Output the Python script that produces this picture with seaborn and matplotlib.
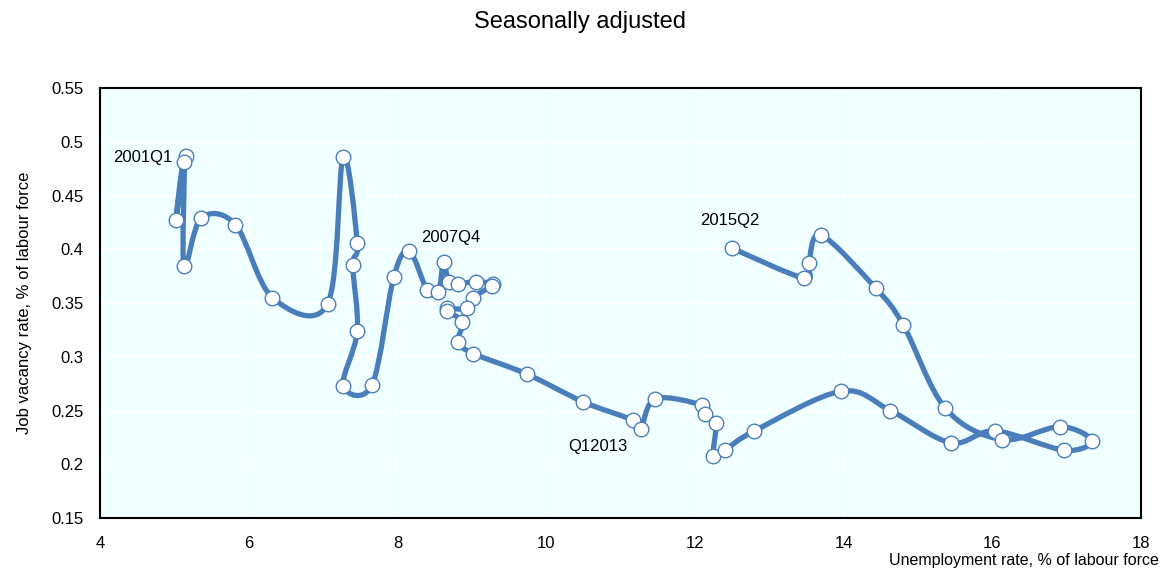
import seaborn as sns
import numpy as np
import matplotlib.pyplot as plt
from matplotlib.path import Path
from matplotlib.patches import PathPatch
from matplotlib.ticker import FuncFormatter

# quarterly points, 2001Q1 -> 2015Q2
unemployment = [5.16, 5.02, 5.13, 5.13, 5.36, 5.82, 6.32, 7.06, 7.27, 7.46,
                7.40, 7.46, 7.27, 7.66, 7.95, 8.16, 8.40, 8.55, 8.62, 8.69,
                8.82, 9.06, 9.29, 9.27, 9.02, 8.93, 8.67, 8.67, 8.87, 8.82,
                9.02, 9.74, 10.50, 11.17, 11.27, 11.47, 12.10, 12.13, 12.28, 12.25,
                12.40, 12.80, 13.97, 14.63, 15.44, 16.04, 16.97, 17.34, 16.91, 16.13,
                15.37, 14.80, 14.43, 13.70, 13.53, 13.47, 12.50]
vacancy = [0.487, 0.427, 0.481, 0.384, 0.429, 0.423, 0.355, 0.349, 0.486, 0.406,
           0.385, 0.324, 0.273, 0.274, 0.374, 0.398, 0.362, 0.360, 0.388, 0.370,
           0.368, 0.370, 0.368, 0.366, 0.355, 0.345, 0.345, 0.343, 0.332, 0.314,
           0.303, 0.284, 0.258, 0.241, 0.233, 0.261, 0.255, 0.247, 0.238, 0.208,
           0.213, 0.231, 0.268, 0.250, 0.220, 0.231, 0.213, 0.222, 0.235, 0.223,
           0.252, 0.330, 0.364, 0.413, 0.387, 0.373, 0.401]

# period labels and the point each one sits next to
period_labels = ['2001Q1', '2007Q4', 'Q12013', '2015Q2']
label_points = [0, 18, 34, 56]
label_offsets = [(-53, -1), (-16, 18), (-52, -13), (-23, 20)]

xticks = [4, 6, 8, 10, 12, 14, 16, 18]
yticks = [0.15, 0.2, 0.25, 0.3, 0.35, 0.4, 0.45, 0.5, 0.55]

line_color = '#4A7EBB'

sns.set_style('whitegrid', {'axes.facecolor': '#F0FFFF', 'grid.color': 'white',
                            'axes.edgecolor': 'black', 'text.color': 'black',
                            'axes.labelcolor': 'black'})
plt.rcParams['font.family'] = ['Liberation Sans', 'DejaVu Sans']

fig = plt.figure(figsize=(11.6, 5.69), dpi=100)
ax = fig.add_axes([0.0862, 0.0896, 0.8974, 0.7557])

# smoothed line (Catmull-Rom as cubic Bezier segments through the points)
pts = np.column_stack([unemployment, vacancy])
verts = [pts[0]]
codes = [Path.MOVETO]
n = len(pts)
for i in range(n - 1):
    p0 = pts[max(i - 1, 0)]
    p1 = pts[i]
    p2 = pts[i + 1]
    p3 = pts[min(i + 2, n - 1)]
    verts += [p1 + (p2 - p0) / 6, p2 - (p3 - p1) / 6, p2]
    codes += [Path.CURVE4] * 3
ax.add_patch(PathPatch(Path(verts, codes), facecolor='none', edgecolor=line_color,
                       lw=3.8, capstyle='round', joinstyle='round', zorder=2))

sns.scatterplot(x=unemployment, y=vacancy, ax=ax, s=110, color='white',
                edgecolor=line_color, linewidth=1.0, zorder=3)

for lab, idx, off in zip(period_labels, label_points, label_offsets):
    ax.annotate(lab, (unemployment[idx], vacancy[idx]), xytext=off,
                textcoords='offset points', fontsize=12, va='center', ha='left',
                color='black')

ax.set_xlim(4, 18)
ax.set_ylim(0.15, 0.55)
ax.set_xticks(xticks)
ax.set_yticks(yticks)
ax.yaxis.set_major_formatter(FuncFormatter(lambda v, p: f'{v:g}'))
ax.tick_params(direction='in', length=5, width=1, labelsize=12, colors='black')
ax.tick_params(axis='x', pad=13)
ax.tick_params(axis='y', pad=12)
for sp in ax.spines.values():
    sp.set_linewidth(1.5)
ax.grid(True, color='white', linewidth=1.2)

ax.set_ylabel('Job vacancy rate, % of labour force', fontsize=12, labelpad=14)
ax.set_xlabel('Unemployment rate, % of labour force', fontsize=11.5, ha='right')
ax.xaxis.set_label_coords(1.017, -0.082)
fig.suptitle('Seasonally adjusted', fontsize=17, y=0.98, color='black')

plt.savefig('out.png', dpi=100)
